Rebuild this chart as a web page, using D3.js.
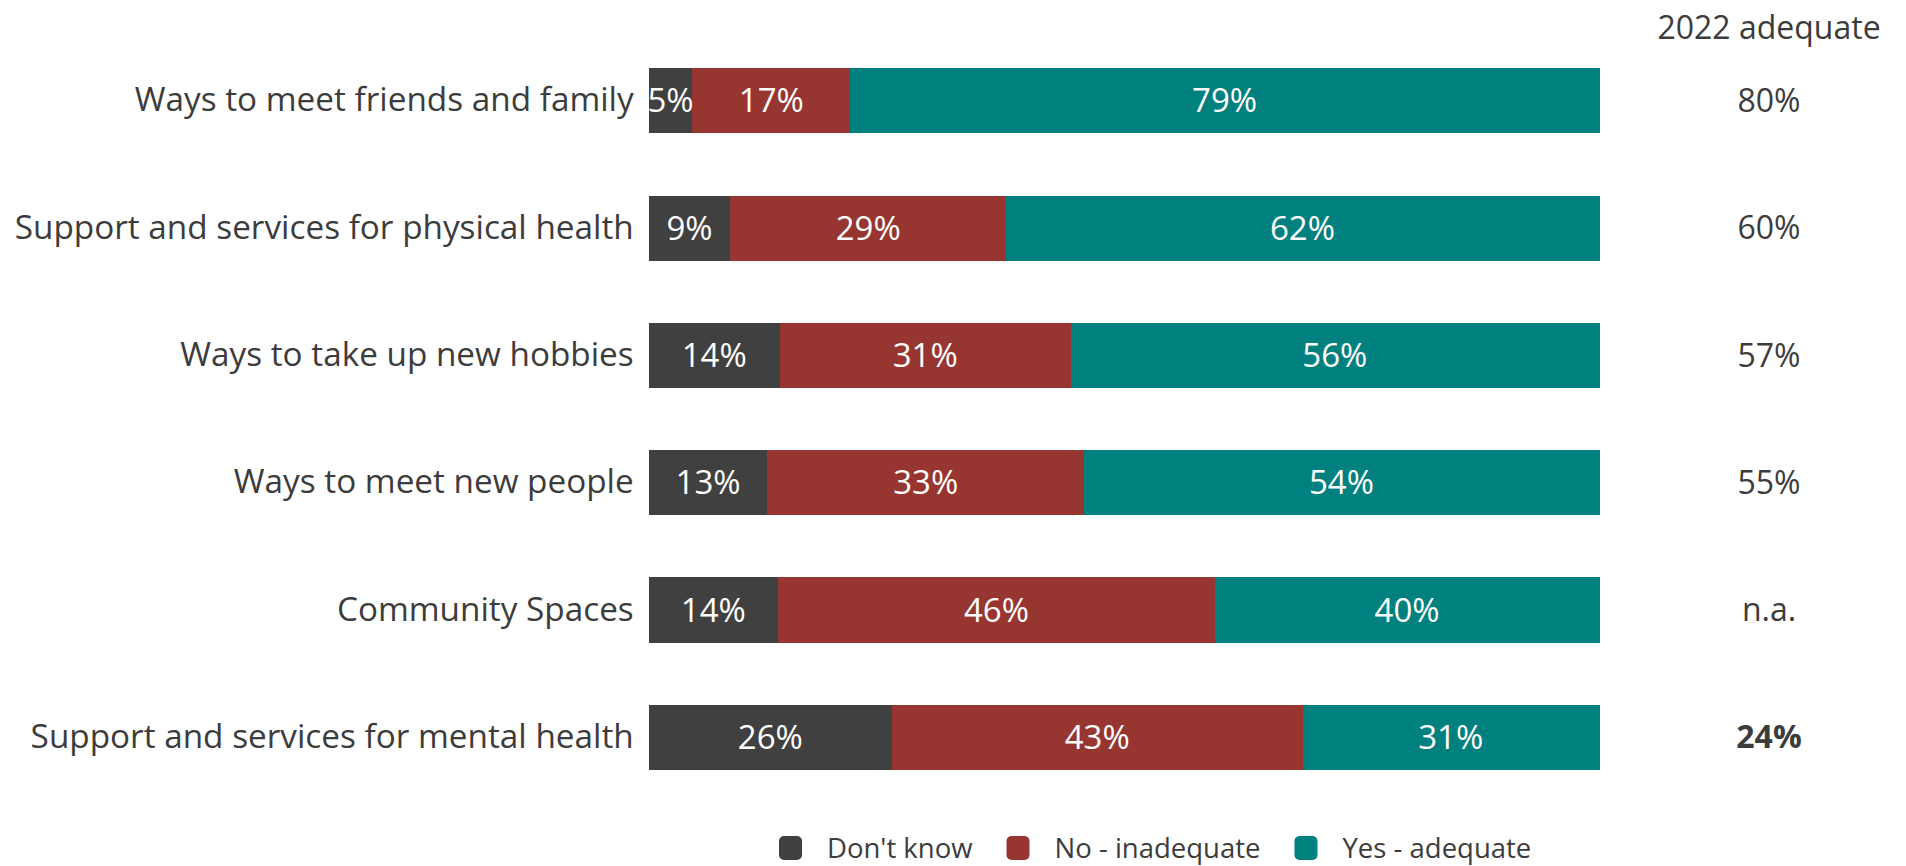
<!DOCTYPE html>
<html>
<head>
<meta charset="utf-8">
<script src="https://cdn.jsdelivr.net/npm/d3@7"></script>
<style>
  html, body { margin: 0; padding: 0; background: #ffffff; }
  svg { display: block; font-family: "Open Sans", "Noto Sans", sans-serif; }
</style>
</head>
<body>
<svg id="chart" width="1906" height="866"></svg>
<script>
const categories = [
  "Ways to meet friends and family",
  "Support and services for physical health",
  "Ways to take up new hobbies",
  "Ways to meet new people",
  "Community Spaces",
  "Support and services for mental health"
];
const seriesNames = ["Don't know", "No - inadequate", "Yes - adequate"];
const dontKnow   = [4.6, 8.6, 13.8, 12.5, 13.6, 25.6];
const inadequate = [16.6, 29.0, 30.6, 33.3, 46.0, 43.2];
const adequate   = [78.8, 62.4, 55.6, 54.2, 40.4, 31.2];
const adequate2022 = ["80%", "60%", "57%", "55%", "n.a.", "24%"];
const bold2022     = [false, false, false, false, false, true];
const columnHeader = "2022 adequate";
const colors = ["#404040", "#973530", "#00807e"];

const svg = d3.select("#chart");
const textColor = "#3c3c3c";

const x = d3.scaleLinear().domain([0, 100]).range([648.7, 1599]);
const y = d3.scaleBand().domain(categories).range([68.3, 769.8]).paddingInner(0.489).paddingOuter(0);

const rows = categories.map((c, i) => ({ cat: c, values: [dontKnow[i], inadequate[i], adequate[i]] }));

const stack = d3.stack().keys([0, 1, 2]).value((d, k) => d.values[k]);
const stacked = stack(rows);

const groups = svg.append("g").attr("shape-rendering", "crispEdges").selectAll("g")
  .data(stacked).join("g")
  .attr("fill", (d, i) => colors[i]);

groups.selectAll("rect")
  .data(d => d)
  .join("rect")
  .attr("x", d => x(d[0]))
  .attr("y", d => y(d.data.cat))
  .attr("width", d => x(d[1]) - x(d[0]) + 0.5)
  .attr("height", y.bandwidth());

// value labels
stacked.forEach((layer) => {
  svg.append("g").selectAll("text")
    .data(layer).join("text")
    .attr("x", d => (x(d[0]) + x(d[1])) / 2)
    .attr("y", d => y(d.data.cat) + y.bandwidth() / 2)
    .attr("dy", "0.35em")
    .attr("text-anchor", "middle")
    .attr("fill", "#ffffff")
    .attr("font-size", 33)
    .text(d => Math.round(d[1] - d[0]) + "%");
});

// category axis
const yAxis = d3.axisLeft(y).tickSize(0).tickPadding(15);
const ax = svg.append("g").attr("transform", `translate(${x(0)},0)`).call(yAxis);
ax.select(".domain").remove();
ax.selectAll("text").attr("font-size", 33.3).attr("fill", textColor)
  .attr("font-family", "\"Open Sans\", sans-serif");

// 2022 column
const colX = 1769;
svg.append("text")
  .attr("x", colX).attr("y", 39)
  .attr("text-anchor", "middle")
  .attr("font-size", 32).attr("fill", textColor)
  .text(columnHeader);

svg.append("g").selectAll("text")
  .data(categories).join("text")
  .attr("x", colX)
  .attr("y", d => y(d) + y.bandwidth() / 2)
  .attr("dy", "0.35em")
  .attr("text-anchor", "middle")
  .attr("font-size", 32)
  .attr("font-weight", (d, i) => bold2022[i] ? 700 : 400)
  .attr("fill", textColor)
  .text((d, i) => adequate2022[i]);

// legend
const legend = svg.append("g").attr("transform", "translate(779,848)");
let lx = 0;
seriesNames.forEach((name, i) => {
  const g = legend.append("g").attr("transform", `translate(${lx},0)`);
  g.append("rect").attr("x", 0).attr("y", -12).attr("width", 23).attr("height", 24)
    .attr("rx", 5).attr("fill", colors[i]);
  const t = g.append("text").attr("x", 48).attr("y", 0).attr("dy", "0.35em")
    .attr("font-size", 27.5).attr("fill", textColor).text(name);
  lx += 48 + t.node().getComputedTextLength() + 34;
});
</script>
</body>
</html>
